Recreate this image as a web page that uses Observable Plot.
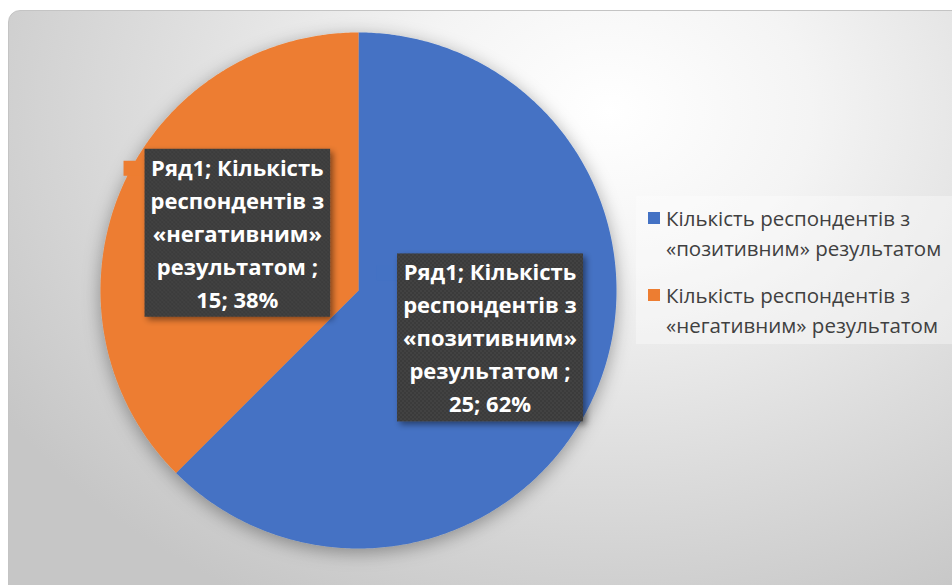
<!DOCTYPE html>
<html>
<head>
<meta charset="utf-8">
<script src="https://cdn.jsdelivr.net/npm/d3@7"></script>
<script src="https://cdn.jsdelivr.net/npm/@observablehq/plot@0.6"></script>
<style>
  html, body { margin: 0; padding: 0; background: #ffffff; }
  #wrap { position: relative; width: 952px; height: 585px; overflow: hidden; }
  #bg { position: absolute; left: 8px; top: 10px; width: 960px; height: 600px;
        border-radius: 12px; border: 1px solid #c4c4c4;
        background: radial-gradient(ellipse 720px 560px at 600px 100px, #ffffff 0%, #f4f4f4 28%, #dcdcdc 65%, #c6c6c6 100%); }
  #chart { position: absolute; left: 0; top: 0; }
  #legend { position: absolute; left: 636px; top: 196px; width: 330px; height: 148px;
            background: rgba(255,255,255,0.35); font-family: "Open Sans", Roboto, sans-serif;
            font-size: 20.5px; color: #404040; }
  .item { position: absolute; left: 30px; line-height: 30px; white-space: nowrap; }
  .key { position: absolute; left: 12px; width: 12px; height: 12px; }
</style>
</head>
<body>
<div id="wrap">
  <div id="bg"></div>
  <div id="chart"></div>
  <div id="legend"></div>
</div>
<script>
// ---- data ----
const seriesName = "Ряд1";
const categories = [
  "Кількість респондентів з «позитивним» результатом",
  "Кількість респондентів з «негативним» результатом"
];
const values = [25, 15];
const percents = [62, 38];
const colors = ["#4472C4", "#ED7D31"];

// ---- pie geometry from data ----
const arcs = d3.pie().sort(null).value(d => d.value)(
  categories.map((c, i) => ({category: c, value: values[i], pct: percents[i]}))
);
const points = [];
for (const a of arcs) {
  const n = Math.max(2, Math.ceil((a.endAngle - a.startAngle) / 0.01));
  points.push({category: a.data.category, x: 0, y: 0});
  for (let k = 0; k <= n; k++) {
    const t = a.startAngle + (a.endAngle - a.startAngle) * k / n;
    points.push({category: a.data.category, x: Math.sin(t), y: Math.cos(t)});
  }
  points.push({category: a.data.category, x: 0, y: 0});
}
function wrapLabel(d) {
  const w = d.category.split(" ");
  return [`${seriesName}; ${w[0]}`, `${w[1]} ${w[2]}`, w[3], `${w[4]} ;`, `${d.value}; ${d.pct}%`].join("\n");
}
const labels = arcs.map(a => {
  const m = (a.startAngle + a.endAngle) / 2;
  return {category: a.data.category, x: 0.53 * Math.sin(m) + 0.02, y: 0.53 * Math.cos(m) + 0.027, text: wrapLabel(a.data)};
});

const cx = 358, cy = 290, r = 258;
const plot = Plot.plot({
  width: 952, height: 585,
  margin: 0,
  style: {background: "transparent", overflow: "visible"},
  x: {domain: [-1, 1], range: [cx - r, cx + r], axis: null},
  y: {domain: [-1, 1], range: [cy + r, cy - r], axis: null},
  color: {domain: categories, range: colors},
  marks: [
    Plot.line(points, {x: "x", y: "y", z: "category", fill: "category", stroke: "none", curve: "linear"}),
    Plot.text(labels, {x: "x", y: "y", text: "text", fill: "white", fontWeight: "bold",
      fontSize: 22, lineHeight: 1.5, fontFamily: "'Open Sans', Roboto, sans-serif"})
  ]
});
document.getElementById("chart").appendChild(plot);

// defs: shadow & pattern
const svg = d3.select(plot);
const defs = svg.insert("defs", ":first-child");
const f1 = defs.append("filter").attr("id", "pieShadow").attr("x", "-20%").attr("y", "-20%").attr("width", "140%").attr("height", "140%");
f1.append("feDropShadow").attr("dx", 0).attr("dy", 4).attr("stdDeviation", 9).attr("flood-color", "#000").attr("flood-opacity", 0.35);
const f2 = defs.append("filter").attr("id", "boxShadow").attr("x", "-20%").attr("y", "-20%").attr("width", "140%").attr("height", "140%");
f2.append("feDropShadow").attr("dx", 3).attr("dy", 3).attr("stdDeviation", 3).attr("flood-color", "#000").attr("flood-opacity", 0.45);
const pat = defs.append("pattern").attr("id", "dots").attr("width", 4).attr("height", 4).attr("patternUnits", "userSpaceOnUse");
pat.append("rect").attr("width", 4).attr("height", 4).attr("fill", "#3a3a3a");
pat.append("circle").attr("cx", 1).attr("cy", 1).attr("r", 0.8).attr("fill", "#4d4d4d");
pat.append("circle").attr("cx", 3).attr("cy", 3).attr("r", 0.8).attr("fill", "#4d4d4d");

svg.select('g[aria-label="line"]').attr("filter", "url(#pieShadow)");

// label boxes behind texts
const textG = plot.querySelector('g[aria-label="text"]');
Array.from(textG.querySelectorAll("text")).forEach((t, i) => {
  const bb = t.getBBox();
  const padX = 6, padY = 3;
  const g = document.createElementNS("http://www.w3.org/2000/svg", "g");
  const tr = t.getAttribute("transform");
  if (tr) g.setAttribute("transform", tr);
  textG.insertBefore(g, t);
  const gs = d3.select(g);
  const bx = bb.x - padX, by = bb.y - padY;
  gs.append("rect").attr("x", bx - 21).attr("y", by + 12).attr("width", 26).attr("height", 15)
    .attr("fill", colors[i]);
  gs.append("rect").attr("x", bx).attr("y", by)
    .attr("width", bb.width + 2 * padX).attr("height", bb.height + 2 * padY)
    .attr("fill", "url(#dots)").attr("filter", "url(#boxShadow)");
});

// legend
const legend = document.getElementById("legend");
categories.forEach((c, i) => {
  const w = c.split(" ");
  const top = 7 + i * 77;
  const key = document.createElement("div");
  key.className = "key"; key.style.top = (top + 9) + "px"; key.style.background = colors[i];
  legend.appendChild(key);
  const it = document.createElement("div");
  it.className = "item"; it.style.top = top + "px";
  it.innerHTML = `${w.slice(0, 3).join(" ")}<br>${w.slice(3).join(" ")}`;
  legend.appendChild(it);
});
</script>
</body>
</html>
